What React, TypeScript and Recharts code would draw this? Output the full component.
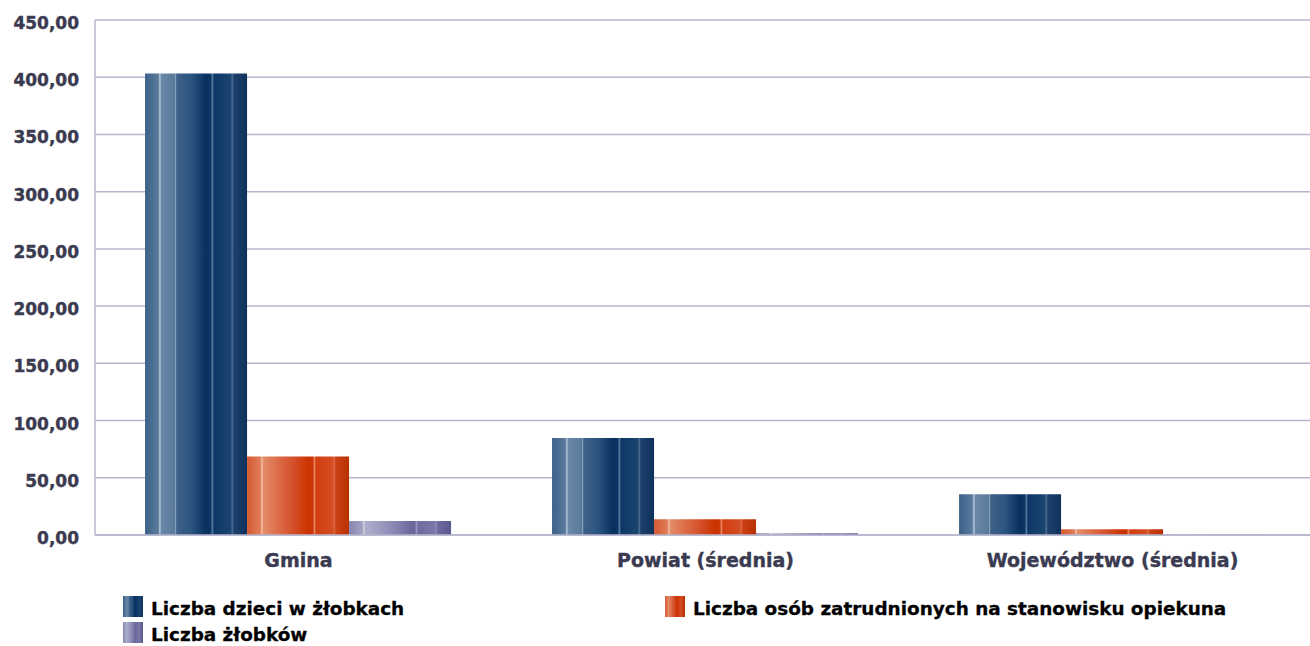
import React from "react";
import { BarChart, Bar, XAxis, YAxis, CartesianGrid } from "recharts";

const categories = ["Gmina", "Powiat (średnia)", "Województwo (średnia)"];
const dzieci = [403.3, 84.7, 35.6];
const opiekunowie = [68.6, 13.7, 5.0];
const zlobki = [12.3, 1.6, 0.2];
const yTicks = [0, 50, 100, 150, 200, 250, 300, 350, 400, 450];
const seriesNames = [
  "Liczba dzieci w żłobkach",
  "Liczba osób zatrudnionych na stanowisku opiekuna",
  "Liczba żłobków",
];

const data = categories.map((c, i) => ({
  name: c,
  dzieci: dzieci[i],
  opiekunowie: opiekunowie[i],
  zlobki: zlobki[i],
}));

type Stop = [number, string];
const blueStops: Stop[] = [
  [0, "#3b6088"], [0.13, "#5a7b9d"], [0.145, "#b9c8d8"], [0.16, "#6a88a8"],
  [0.29, "#5a7a9c"], [0.3, "#8ea6be"], [0.31, "#3e6288"], [0.45, "#2c5480"],
  [0.6, "#07305f"], [0.645, "#0b3666"], [0.66, "#5b7ca0"], [0.675, "#0c3767"],
  [0.84, "#1c4470"], [0.855, "#4f6f92"], [0.87, "#1c416c"], [1, "#0f325c"],
];
const orangeStops: Stop[] = [
  [0, "#d45a30"], [0.13, "#e07c58"], [0.145, "#f4c0a6"], [0.16, "#e48c6a"],
  [0.3, "#dc6e48"], [0.45, "#d4502a"], [0.6, "#cc3300"], [0.645, "#cc3606"],
  [0.66, "#ec8a66"], [0.675, "#d23e10"], [0.84, "#d44e24"], [0.855, "#de6a44"],
  [0.87, "#cc4016"], [1, "#b83000"],
];
const purpleStops: Stop[] = [
  [0, "#8886b0"], [0.13, "#a2a2c4"], [0.145, "#d8d8e8"], [0.16, "#aeaecc"],
  [0.3, "#9c9cc0"], [0.45, "#8886b2"], [0.6, "#6c6a9c"], [0.645, "#6a689a"],
  [0.66, "#9c9cc0"], [0.675, "#6e6ca0"], [0.84, "#7a78a8"], [0.855, "#8a88b4"],
  [0.87, "#6c6a9c"], [1, "#5a5890"],
];

const cssGradient = (stops: Stop[]) =>
  `linear-gradient(to right, ${stops.map(([o, c]) => `${c} ${o * 100}%`).join(", ")})`;

const gridColor = "#b6b6ce";
const tickColor = "#3a3a50";
const tickFont = "'DejaVu Sans', sans-serif";

const fmt = (v: number) => v.toFixed(2).replace(".", ",");

const YTick = (props: any) => {
  const { x, y, payload } = props;
  return (
    <text x={x} y={y + 4} textAnchor="end" dominantBaseline="middle"
      fontFamily={tickFont} fontWeight="bold" fontSize={17} fill={tickColor}
      stroke={tickColor} strokeWidth={0.4}>
      {fmt(payload.value)}
    </text>
  );
};

const XTick = (props: any) => {
  const { x, y, payload } = props;
  return (
    <text x={x} y={y} textAnchor="middle" dominantBaseline="hanging"
      fontFamily={tickFont} fontWeight="bold" fontSize={19} fill={tickColor}
      stroke={tickColor} strokeWidth={0.4}>
      {payload.value}
    </text>
  );
};

const LegendItem = ({ left, top, stops, label }: { left: number; top: number; stops: Stop[]; label: string }) => (
  <div style={{ position: "absolute", left, top, display: "flex", alignItems: "center", whiteSpace: "nowrap" }}>
    <div style={{ width: 20, height: 21, background: cssGradient(stops), marginRight: 8 }} />
    <span style={{ fontFamily: "'DejaVu Sans', sans-serif", fontWeight: "bold", fontSize: 18.4, color: "#000", WebkitTextStroke: "0.3px #000", position: "relative", top: 2 } as any}>
      {label}
    </span>
  </div>
);

export default function App() {
  return (
    <div style={{ position: "absolute", left: 0, top: 0, width: 1310, height: 646, overflow: "hidden", background: "#fff" }}>
      <BarChart width={1316} height={580} data={data}
        margin={{ top: 20, right: 0, bottom: 0, left: 0 }}
        barCategoryGap="12.3%" barGap={0}>
        <defs>
          {[["gBlue", blueStops], ["gOrange", orangeStops], ["gPurple", purpleStops]].map(([id, stops]) => (
            <linearGradient key={id as string} id={id as string} x1="0" y1="0" x2="1" y2="0">
              {(stops as Stop[]).map(([o, c], i) => (
                <stop key={i} offset={o} stopColor={c} />
              ))}
            </linearGradient>
          ))}
        </defs>
        <CartesianGrid vertical={false} stroke={gridColor} strokeWidth={1.5} />
        <XAxis dataKey="name" axisLine={{ stroke: gridColor, strokeWidth: 1.5 }} tickLine={false}
          tickSize={0} tickMargin={18} height={45} tick={<XTick />} interval={0} />
        <YAxis domain={[0, 450]} ticks={yTicks} axisLine={{ stroke: gridColor, strokeWidth: 1.5 }}
          tickLine={false} tickSize={0} tickMargin={16} width={95} tick={<YTick />} />
        <Bar dataKey="dzieci" fill="url(#gBlue)" isAnimationActive={false} />
        <Bar dataKey="opiekunowie" fill="url(#gOrange)" isAnimationActive={false} />
        <Bar dataKey="zlobki" fill="url(#gPurple)" isAnimationActive={false} />
      </BarChart>
      <LegendItem left={123} top={596} stops={blueStops} label={seriesNames[0]} />
      <LegendItem left={665} top={596} stops={orangeStops} label={seriesNames[1]} />
      <LegendItem left={123} top={622} stops={purpleStops} label={seriesNames[2]} />
    </div>
  );
}
